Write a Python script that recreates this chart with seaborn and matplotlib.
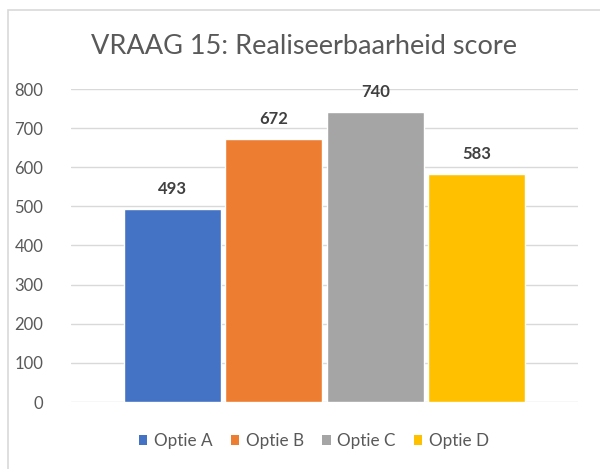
import matplotlib
matplotlib.use("Agg")
import matplotlib.pyplot as plt
import seaborn as sns
import pandas as pd
from matplotlib.patches import Patch, Rectangle

categories = ["Optie A", "Optie B", "Optie C", "Optie D"]
values = [493, 672, 740, 583]
colors = ["#4472C4", "#ED7D31", "#A5A5A5", "#FFC000"]
yticks = [0, 100, 200, 300, 400, 500, 600, 700, 800]
title = "VRAAG 15: Realiseerbaarheid score"

sns.set_theme(style="white")
plt.rcParams['font.family'] = ['Lato', 'DejaVu Sans']

fig = plt.figure(figsize=(6.0, 4.69), dpi=100)
W, H = 600, 469
ax = fig.add_axes([71 / W, (H - 402) / H, 507 / W, 313 / H])

df = pd.DataFrame({"cat": categories, "val": values})
sns.barplot(data=df, x="cat", y="val", hue="cat", palette=colors,
            width=0.96, ax=ax, legend=False, saturation=1)

ax.set_xlim(-1.0, 4.0)
ax.set_ylim(0, 800)
ax.set_yticks(yticks)
ax.set_yticklabels([str(t) for t in yticks])
ax.set_xticks([])
ax.set_xlabel("")
ax.set_ylabel("")
ax.yaxis.grid(True, color="#d9d9d9", linewidth=1.0)
ax.set_axisbelow(True)
for s in ax.spines.values():
    s.set_visible(False)
ax.tick_params(axis="y", length=0, pad=20, labelsize=12, labelcolor="#595959")

for i, v in enumerate(values):
    ax.annotate(str(v), (i, v), xytext=(0, 20), textcoords="offset pixels",
                ha="center", va="center", fontsize=12,
                fontweight="bold", color="#404040")

fig.text(304 / W, 1 - 47 / H, title, ha="center", va="center",
         fontsize=19.5, color="#595959")

handles = [Patch(facecolor=c, edgecolor="none", label=l) for c, l in zip(colors, categories)]
fig.legend(handles=handles, loc="center", bbox_to_anchor=(314 / W, 1 - 441 / H),
           ncol=4, frameon=False, fontsize=12.3, labelcolor="#595959",
           handlelength=0.5, handleheight=0.5, handletextpad=0.4, columnspacing=1.05)

fig.patches.append(Rectangle((8 / W, -0.1), 1.2, 1 - 10 / H + 0.1,
                             transform=fig.transFigure, fill=False,
                             edgecolor="#d9d9d9", linewidth=1.2))

fig.savefig("out.png", dpi=100)
